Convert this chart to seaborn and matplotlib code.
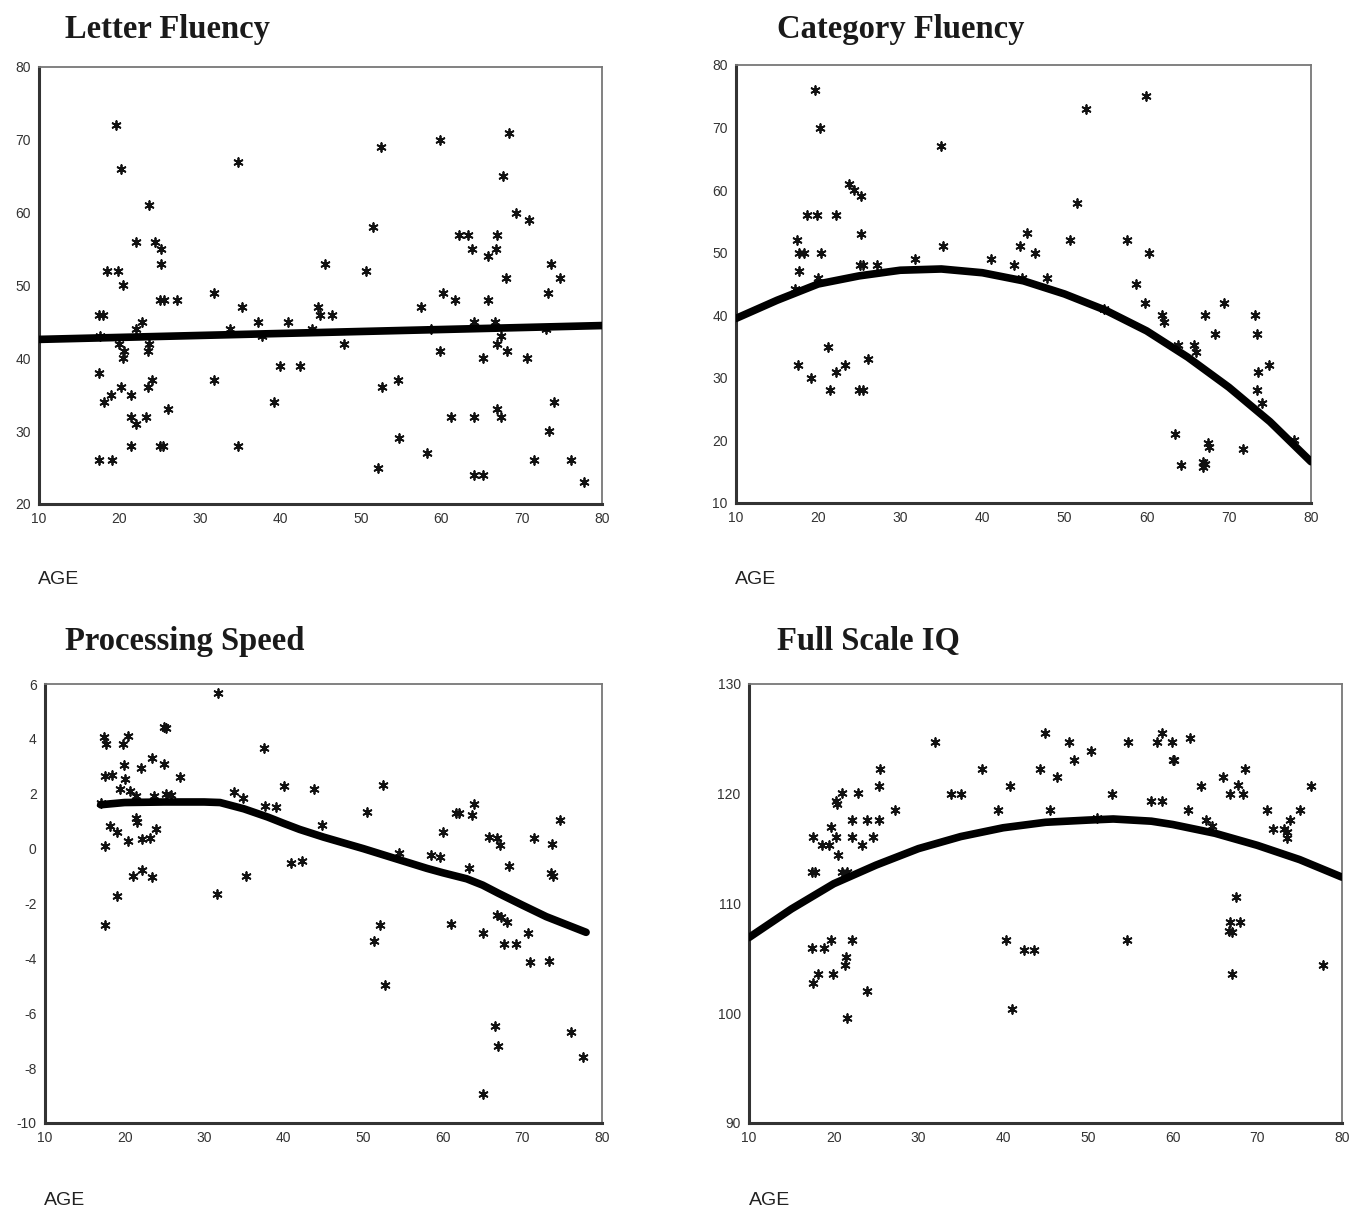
import matplotlib
matplotlib.use("Agg")
import matplotlib.pyplot as plt
import seaborn as sns

# ---- Letter Fluency ----
lf_age = [19.6, 20.2, 34.8, 23.7, 22.1, 24.4, 25.2, 25.2, 18.5, 19.8, 20.4, 25.1, 25.5, 27.1,
          31.8, 35.2, 17.4, 17.9, 22.8, 22.1, 33.7, 37.2, 40.9, 43.9, 44.7, 44.9, 17.6, 37.7,
          19.9, 20.6, 20.4, 23.7, 23.5, 17.4, 31.7, 24.1, 23.5, 20.2, 18.9, 21.4, 18.1, 26.1,
          39.2, 40.0, 42.4, 21.4, 23.3, 22.1, 21.5, 25.0, 25.4, 34.8, 17.5, 19.1,
          46.4, 45.5, 50.6, 51.5, 52.5, 59.8, 68.4, 67.7, 69.3, 70.9, 62.2, 63.4, 67.0, 63.8,
          66.8, 65.8, 73.6, 74.8, 68.1, 73.3, 60.2, 61.7, 65.8, 57.5, 47.9, 58.8, 64.1, 66.7,
          67.5, 66.9, 68.2, 59.8, 65.2, 70.7, 73.0, 52.7, 54.6, 61.2, 64.1, 67.0, 67.5, 74.0,
          73.4, 54.8, 58.2, 52.1, 64.1, 65.2, 71.6, 76.2, 77.7]
lf_score = [72, 66, 67, 61, 56, 56, 55, 53, 52, 52, 50, 48, 48, 48,
            49, 47, 46, 46, 45, 44, 44, 45, 45, 44, 47, 46, 43, 43,
            42, 41, 40, 42, 41, 38, 37, 37, 36, 36, 35, 35, 34, 33,
            34, 39, 39, 32, 32, 31, 28, 28, 28, 28, 26, 26,
            46, 53, 52, 58, 69, 70, 71, 65, 60, 59, 57, 57, 57, 55,
            55, 54, 53, 51, 51, 49, 49, 48, 48, 47, 42, 44, 45, 45,
            43, 42, 41, 41, 40, 40, 44, 36, 37, 32, 32, 33, 32, 34,
            30, 29, 27, 25, 24, 24, 26, 26, 23]
lf_fit_age = [10, 80]
lf_fit = [42.6, 44.5]

# ---- Category Fluency ----
cf_age = [19.6, 20.2, 34.9, 23.7, 24.4, 25.2, 18.6, 19.9, 22.2, 25.2, 17.4, 35.2, 17.7, 18.3,
          20.4, 25.1, 25.5, 27.2, 31.8, 41.0, 43.9, 17.7, 20.0, 17.2, 44.6, 45.4, 44.8, 21.2,
          26.1, 17.5, 23.3, 22.2, 19.1, 21.4, 25.0, 25.4,
          52.6, 59.9, 51.5, 46.4, 50.6, 57.6, 60.3, 47.9, 58.7, 59.8, 69.4, 61.8, 62.1, 67.1,
          73.2, 68.3, 73.4, 63.8, 65.8, 66.0, 74.9, 73.6, 73.4, 74.0, 63.4, 67.5, 67.6, 71.7,
          64.2, 66.8, 66.8, 67.1, 77.9, 54.8]
cf_score = [76, 70, 67, 61, 60, 59, 56, 56, 56, 53, 52, 51, 50, 50,
            50, 48, 48, 48, 49, 49, 48, 47, 46, 44.2, 51, 53.2, 46, 35,
            33, 32, 32, 31, 30, 28, 28, 28,
            73, 75, 58, 50, 52, 52, 50, 46, 45, 42, 42, 40, 39, 40,
            40, 37, 37, 35.2, 35.2, 34.1, 32, 31, 28, 26, 21, 19.6, 19, 18.7,
            16, 16.6, 15.8, 16.2, 20, 41]
cf_fit_age = [10, 15, 20, 25, 30, 35, 40, 45, 50, 55, 60, 65, 70, 75, 80]
cf_fit = [39.5, 42.4, 45.0, 46.3, 47.2, 47.4, 46.8, 45.5, 43.4, 40.8, 37.5, 33.3, 28.5, 23.0, 16.6]

# ---- Processing Speed ----
ps_age = [31.7, 25.0, 25.2, 17.4, 17.7, 20.4, 19.8, 37.5, 23.5, 22.1, 25.0, 19.9, 17.5, 18.4,
          20.1, 27.0, 19.4, 20.7, 21.4, 23.7, 25.2, 25.8, 33.8, 34.9, 40.0, 43.8, 37.7, 39.0,
          17.0, 21.4, 21.5, 18.2, 19.0, 23.9, 23.2, 22.2, 20.4, 44.8, 17.5, 40.9, 42.3, 21.1,
          22.2, 23.5, 35.2, 19.0, 31.6, 17.5,
          52.5, 50.5, 54.5, 60.0, 61.6, 62.0, 63.9, 63.6, 58.5, 59.7, 63.3, 65.8, 66.8, 67.2,
          68.3, 71.5, 73.7, 74.7, 73.6, 73.8, 52.1, 51.3, 52.7, 61.0, 65.1, 66.8, 67.3, 68.1,
          67.7, 69.2, 70.7, 70.9, 73.4, 66.6, 66.9, 76.1, 77.6, 65.1]
ps_score = [5.68, 4.45, 4.40, 4.06, 3.80, 4.10, 3.80, 3.68, 3.31, 2.94, 3.10, 3.03, 2.65, 2.67,
            2.55, 2.61, 2.19, 2.10, 1.93, 1.93, 2.00, 1.97, 2.05, 1.86, 2.28, 2.17, 1.57, 1.50,
            1.66, 1.12, 0.97, 0.82, 0.62, 0.73, 0.37, 0.35, 0.29, 0.86, 0.08, -0.52, -0.46, -1.00,
            -0.78, -1.04, -0.98, -1.73, -1.64, -2.80,
            2.31, 1.32, -0.15, 0.59, 1.30, 1.30, 1.62, 1.22, -0.22, -0.30, -0.72, 0.43, 0.38, 0.15,
            -0.63, 0.38, 0.17, 1.03, -0.90, -1.00, -2.80, -3.37, -4.98, -2.74, -3.08, -2.42, -2.50, -2.68,
            -3.46, -3.46, -3.08, -4.14, -4.09, -6.47, -7.20, -6.67, -7.59, -8.95]
ps_fit_age = [17, 20, 25, 30, 32, 35, 38, 40, 42, 45, 50, 55, 58, 60, 63, 65, 67, 70, 73, 78]
ps_fit = [1.60, 1.68, 1.70, 1.70, 1.68, 1.45, 1.15, 0.92, 0.70, 0.42, 0.00, -0.45, -0.72, -0.88,
          -1.10, -1.33, -1.63, -2.06, -2.48, -3.05]

# ---- Full Scale IQ ----
iq_age = [32.0, 25.5, 37.5, 25.3, 40.8, 21.0, 22.9, 33.8, 35.0, 20.3, 20.4, 27.2, 39.4, 22.2,
          23.9, 25.3, 19.7, 17.6, 20.3, 22.2, 24.6, 18.6, 19.5, 23.3, 20.5, 17.4, 17.8, 21.0,
          21.6, 19.7, 22.1, 17.4, 18.9, 21.5, 21.3, 18.2, 19.9, 17.6, 23.9, 21.6, 40.3, 41.1,
          42.5, 43.6,
          44.9, 47.8, 50.4, 48.4, 44.3, 46.4, 54.7, 58.7, 58.2, 59.9, 62.1, 60.0, 60.2, 63.3,
          65.9, 68.5, 67.7, 66.8, 68.3, 76.3, 52.8, 57.5, 58.7, 45.5, 61.8, 63.9, 64.7, 71.1,
          75.1, 73.9, 71.8, 73.1, 73.5, 73.5, 51.1, 67.5, 66.8, 68.0, 66.7, 67.0, 67.0, 54.6,
          77.7]
iq_score = [124.7, 122.3, 122.3, 120.7, 120.7, 120.1, 120.1, 120.0, 120.0, 119.3, 119.1, 118.5, 118.5, 117.6,
            117.6, 117.6, 117.0, 116.1, 116.1, 116.1, 116.1, 115.3, 115.3, 115.3, 114.4, 112.9, 112.9, 112.9,
            112.9, 106.7, 106.7, 105.9, 105.9, 105.1, 104.4, 103.6, 103.6, 102.8, 102.0, 99.6, 106.7, 100.4,
            105.8, 105.8,
            125.5, 124.7, 123.9, 123.1, 122.3, 121.5, 124.7, 125.5, 124.7, 124.7, 125.1, 123.1, 123.1, 120.7,
            121.5, 122.3, 120.8, 120.0, 120.0, 120.7, 120.0, 119.3, 119.3, 118.5, 118.5, 117.6, 117.1, 118.5,
            118.5, 117.6, 116.8, 116.8, 116.5, 116.0, 117.8, 110.6, 108.3, 108.3, 107.5, 107.4, 103.6, 106.7,
            104.4]
iq_fit_age = [10, 15, 20, 25, 30, 35, 40, 45, 50, 53, 57.5, 60, 65, 70, 75, 80]
iq_fit = [106.9, 109.5, 111.8, 113.5, 115.0, 116.1, 116.9, 117.4, 117.6, 117.7, 117.5, 117.2,
          116.4, 115.3, 114.0, 112.4]

sns.set_style("white")
plt.rcParams["font.family"] = ["Liberation Sans", "DejaVu Sans"]
plt.rcParams["axes.unicode_minus"] = False

W, H = 1352, 1209
fig = plt.figure(figsize=(W / 100, H / 100), dpi=100)


def px_axes(left, top, right, bottom):
    return fig.add_axes([left / W, 1 - bottom / H, (right - left) / W, (bottom - top) / H])


def draw_panel(ax, ages, scores, fit_age, fit, ylim, yticks):
    sns.scatterplot(x=ages, y=scores, ax=ax, marker=(6, 2, 0), s=40, color="#111",
                    linewidth=1.3, zorder=3)
    sns.lineplot(x=fit_age, y=fit, ax=ax, color="black", linewidth=5.5, zorder=4,
                 solid_capstyle="round", solid_joinstyle="round")
    ax.set_xlim(10, 80)
    ax.set_ylim(*ylim)
    ax.set_xticks(range(10, 81, 10))
    ax.set_yticks(yticks)
    ax.tick_params(axis="both", direction="out", length=3, width=3, color="#222",
                   labelsize=10, labelcolor="#333", pad=3)
    for side in ("left", "bottom"):
        ax.spines[side].set_linewidth(2.2)
        ax.spines[side].set_color("#333")
    for side in ("top", "right"):
        ax.spines[side].set_linewidth(1.3)
        ax.spines[side].set_color("#777")
    ax.set_xlabel("")
    ax.set_ylabel("")


ax1 = px_axes(39, 67, 602, 504)
draw_panel(ax1, lf_age, lf_score, lf_fit_age, lf_fit, (20, 80), range(20, 81, 10))
ax2 = px_axes(736, 65, 1311, 503)
draw_panel(ax2, cf_age, cf_score, cf_fit_age, cf_fit, (10, 80), range(10, 81, 10))
ax3 = px_axes(45, 684, 602, 1123)
draw_panel(ax3, ps_age, ps_score, ps_fit_age, ps_fit, (-10, 6), range(-10, 7, 2))
ax4 = px_axes(749, 684, 1342, 1123)
draw_panel(ax4, iq_age, iq_score, iq_fit_age, iq_fit, (90, 130), range(90, 131, 10))

title_kw = dict(family=["Liberation Serif", "DejaVu Serif"], fontweight="bold",
                fontsize=23.5, color="#1a1a1a", va="baseline", ha="left")
fig.text(65 / W, 1 - 38 / H, "Letter Fluency", **title_kw)
fig.text(777 / W, 1 - 38 / H, "Category Fluency", **title_kw)
fig.text(65 / W, 1 - 650 / H, "Processing Speed", **title_kw)
fig.text(777 / W, 1 - 650 / H, "Full Scale IQ", **title_kw)

age_kw = dict(fontsize=14, color="#222", va="baseline", ha="left")
fig.text(38 / W, 1 - 584 / H, "AGE", **age_kw)
fig.text(735 / W, 1 - 584 / H, "AGE", **age_kw)
fig.text(44 / W, 1 - 1205 / H, "AGE", **age_kw)
fig.text(749 / W, 1 - 1205 / H, "AGE", **age_kw)

fig.savefig("out.png", dpi=100, facecolor="white")
